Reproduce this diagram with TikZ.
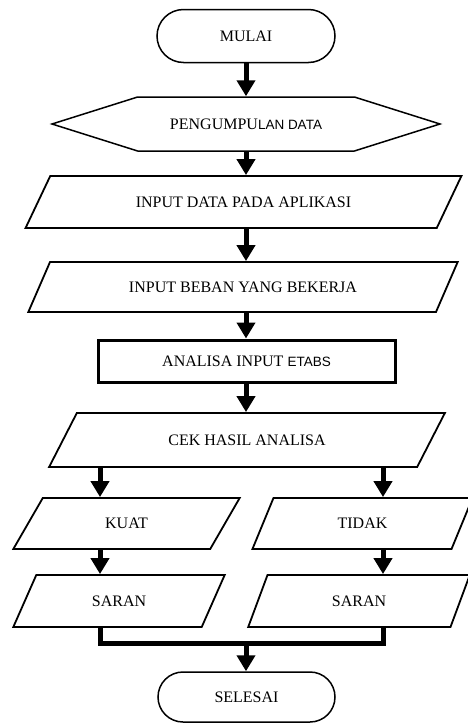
\documentclass[tikz,border=0pt]{standalone}
\usepackage{fontspec}
\setmainfont{Liberation Serif}
\newfontfamily\sansfont{Liberation Sans}
\usepackage{tikz}
\usetikzlibrary{arrows.meta, positioning, shapes.geometric, shapes.misc, shapes.symbols, calc}
\newcommand{\sanskecil}[1]{{\sansfont\fontsize{13.5}{16}\selectfont #1}}

\begin{document}
\begin{tikzpicture}[x=1pt, y=-1pt,
    every node/.style={font=\fontsize{16}{19}\selectfont, inner sep=0pt},
    terminal/.style={rounded rectangle, draw, line width=1.5pt, minimum width=178pt, minimum height=53pt},
    masukan/.style={trapezium, trapezium stretches=true, draw, line width=1.8pt},
    proses/.style={rectangle, draw, line width=3pt, minimum width=297pt, minimum height=42pt},
    panah/.style={line width=5pt, -{Triangle[width=18pt, length=16pt]}},
    garis/.style={line width=5pt}]
  \useasboundingbox (0,0) rectangle (468,723);
  \node[terminal] (mulai) at (246,36) {MULAI};
  \node[signal, signal to=east and west, signal pointer angle=35, draw, line width=1.5pt,
        minimum width=388pt, minimum height=54pt] (kumpul) at (246,124) {PENGUMPU\sanskecil{LAN DATA}};
  \node[masukan, trapezium left angle=38, trapezium right angle=142,
        minimum width=437pt, minimum height=52pt] (data) at (243.5,202) {INPUT DATA PADA APLIKASI};
  \node[masukan, trapezium left angle=40, trapezium right angle=140,
        minimum width=430pt, minimum height=50pt] (beban) at (243,287) {INPUT BEBAN YANG BEKERJA};
  \node[proses] (analisa) at (246.5,361) {ANALISA INPUT \sanskecil{ETABS}};
  \node[masukan, trapezium left angle=40, trapezium right angle=140,
        minimum width=396pt, minimum height=54pt] (cek) at (247,440) {CEK HASIL ANALISA};
  \node[masukan, trapezium left angle=55, trapezium right angle=125,
        minimum width=227pt, minimum height=51pt] (kuat) at (126.5,523.5) {KUAT};
  \node[masukan, trapezium left angle=61, trapezium right angle=119,
        minimum width=221pt, minimum height=51pt] (tidak) at (362.5,523.5) {TIDAK};
  \node[masukan, trapezium left angle=55, trapezium right angle=125,
        minimum width=212pt, minimum height=52pt] (saran1) at (119,601) {SARAN};
  \node[masukan, trapezium left angle=62, trapezium right angle=118,
        minimum width=222pt, minimum height=52pt] (saran2) at (359,601) {SARAN};
  \node[terminal, minimum width=177pt, minimum height=50pt] (selesai) at (246.5,697) {SELESAI};

  \coordinate (kiri) at (100,0);
  \coordinate (kanan) at (383,0);
  \coordinate (tengah) at (246,0);
  \coordinate (gabung) at (0,643);

  \draw[panah] (mulai.south -| tengah) -- (kumpul.north -| tengah);
  \draw[panah] (kumpul.south -| tengah) -- (data.north -| tengah);
  \draw[panah] (data.south -| tengah) -- (beban.north -| tengah);
  \draw[panah] (beban.south -| tengah) -- (analisa.north -| tengah);
  \draw[panah] (analisa.south -| tengah) -- (cek.north -| tengah);
  \draw[panah] (cek.south -| kiri) -- (kuat.north -| kiri);
  \draw[panah] (cek.south -| kanan) -- (tidak.north -| kanan);
  \draw[panah] (kuat.south -| kiri) -- (saran1.north -| kiri);
  \draw[panah] (tidak.south -| kanan) -- (saran2.north -| kanan);
  \draw[garis] (saran1.south -| kiri) |- (gabung -| kanan) -- (saran2.south -| kanan);
  \draw[panah] (gabung -| tengah) -- (selesai.north -| tengah);
\end{tikzpicture}
\end{document}
